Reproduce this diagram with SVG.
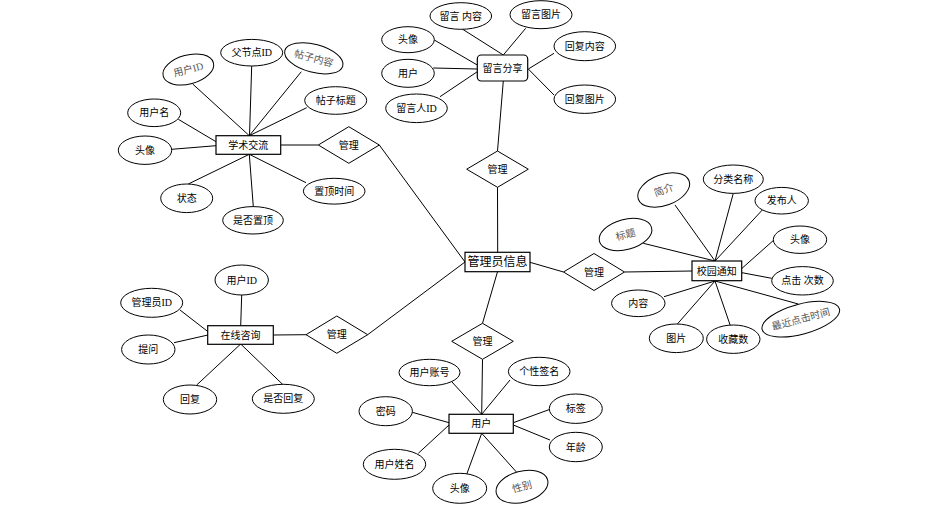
<svg xmlns="http://www.w3.org/2000/svg" width="941" height="509" viewBox="0 0 941 509">
<style>
.e{fill:#fff;stroke:#000;stroke-width:1}
.r{fill:#fff;stroke:#000;stroke-width:1.2}
.d{fill:#fff;stroke:#000;stroke-width:1}
.c line,.c polyline{stroke:#000;stroke-width:1;fill:none}
text{font-family:"Liberation Serif","Noto Sans CJK SC",serif;font-size:10px;text-anchor:middle;dominant-baseline:central;fill:#000}
.g{fill:#555}
.big{font-size:12px}
</style>
<rect width="941" height="509" fill="#fff"/>
<g class="c" id="connectors">
<!-- 学术交流 -->
<line x1="192.7" y1="84" x2="249.3" y2="135.7"/>
<line x1="251.7" y1="66" x2="249.5" y2="135.7"/>
<line x1="301.3" y1="71.7" x2="249.3" y2="135.7"/>
<line x1="306.7" y1="107.7" x2="249.3" y2="135.7"/>
<line x1="178.3" y1="119.3" x2="216" y2="141.7"/>
<line x1="171.7" y1="149.3" x2="216" y2="145.7"/>
<line x1="188.3" y1="184" x2="249.3" y2="154.3"/>
<line x1="253.3" y1="206.7" x2="249.3" y2="154.3"/>
<line x1="306" y1="182.7" x2="249.3" y2="154.3"/>
<line x1="280.7" y1="145" x2="318.3" y2="145"/>
<line x1="379.3" y1="145" x2="465" y2="262"/>
<!-- 留言分享 -->
<line x1="462.7" y1="29.3" x2="503.3" y2="55"/>
<line x1="525.7" y1="28.3" x2="503.3" y2="55"/>
<line x1="434.3" y1="40" x2="477.3" y2="65"/>
<line x1="433.3" y1="68" x2="477.3" y2="69"/>
<line x1="440" y1="96.7" x2="477.3" y2="71.7"/>
<line x1="554" y1="53.3" x2="528.3" y2="69"/>
<line x1="554" y1="95" x2="528.3" y2="69"/>
<line x1="503.3" y1="81" x2="497.5" y2="151"/>
<line x1="497.5" y1="187.3" x2="497.7" y2="252.3"/>
<!-- 校园通知 -->
<line x1="530" y1="262.3" x2="563.5" y2="272"/>
<line x1="624.5" y1="272" x2="692" y2="271"/>
<line x1="675" y1="205" x2="715" y2="261"/>
<line x1="733.3" y1="193.3" x2="715" y2="261"/>
<line x1="762.3" y1="210" x2="715" y2="261"/>
<line x1="643.3" y1="243.3" x2="715" y2="261"/>
<line x1="775" y1="239" x2="742" y2="268.3"/>
<line x1="771.7" y1="278.3" x2="742" y2="272.7"/>
<line x1="798.3" y1="304" x2="715" y2="281"/>
<line x1="664" y1="296.7" x2="715" y2="281"/>
<line x1="675" y1="326.7" x2="715" y2="281"/>
<line x1="730.7" y1="326.7" x2="715" y2="281"/>
<!-- 用户 -->
<line x1="497.5" y1="271.7" x2="482.5" y2="323.3"/>
<line x1="482.5" y1="359.3" x2="481.7" y2="414.3"/>
<line x1="451.7" y1="381.7" x2="481.7" y2="414.3"/>
<line x1="510" y1="380" x2="481.7" y2="414.3"/>
<line x1="412.3" y1="412.3" x2="449" y2="422.7"/>
<line x1="418.3" y1="453.3" x2="449" y2="425"/>
<line x1="466.7" y1="474.3" x2="481.7" y2="433.3"/>
<line x1="516.7" y1="472.3" x2="481.7" y2="433.3"/>
<line x1="550" y1="409.3" x2="513.3" y2="422.7"/>
<line x1="550" y1="440" x2="513.3" y2="425"/>
<!-- 在线咨询 -->
<line x1="465" y1="262" x2="367.7" y2="334.7"/>
<line x1="241.7" y1="295" x2="240.7" y2="326"/>
<line x1="180" y1="310" x2="208" y2="331.7"/>
<line x1="174" y1="342.7" x2="208" y2="335"/>
<line x1="196.7" y1="385" x2="240.7" y2="344"/>
<line x1="283.3" y1="385" x2="240.7" y2="344"/>
<line x1="273.3" y1="335" x2="306" y2="334.7"/>
</g>

<g id="admin">
<rect class="r" x="465" y="252.3" width="65" height="19.4"/>
<text class="big" x="497.5" y="262">管理员信息</text>
</g>

<g id="xueshu">
<rect class="r" x="216" y="135.7" width="64.7" height="18.6"/>
<text x="248.3" y="145">学术交流</text>
</g>
<g id="xueshu-guanli">
<polygon class="d" points="318.3,145 348.8,126.7 379.3,145 348.8,163.3"/>
<text x="348.8" y="145">管理</text>
</g>
<g id="xs-yonghuid">
<ellipse class="e" cx="188.3" cy="69.5" rx="26" ry="14.5" transform="rotate(-15 188.3 69.5)"/>
<text class="g" x="188.3" y="69.5" transform="rotate(-15 188.3 69.5)">用户ID</text>
</g>
<g id="xs-fujiedian">
<ellipse class="e" cx="251.7" cy="52.7" rx="31" ry="13.3"/>
<text x="251.7" y="52.7">父节点ID</text>
</g>
<g id="xs-tiezineirong">
<ellipse class="e" cx="313.8" cy="58.3" rx="30" ry="14" transform="rotate(15 313.8 58.3)"/>
<text class="g" x="313.8" y="58.3" transform="rotate(15 313.8 58.3)">帖子内容</text>
</g>
<g id="xs-tiezibiaoti">
<ellipse class="e" cx="335.7" cy="100.5" rx="31" ry="13.8"/>
<text x="335.7" y="100.5">帖子标题</text>
</g>
<g id="xs-yonghuming">
<ellipse class="e" cx="154.2" cy="112.8" rx="26.5" ry="13.8"/>
<text x="154.2" y="112.8">用户名</text>
</g>
<g id="xs-touxiang">
<ellipse class="e" cx="145" cy="150.2" rx="26.7" ry="14.2"/>
<text x="145" y="150.2">头像</text>
</g>
<g id="xs-zhuangtai">
<ellipse class="e" cx="186.7" cy="198.3" rx="26" ry="14.3"/>
<text x="186.7" y="198.3">状态</text>
</g>
<g id="xs-shifouzhiding">
<ellipse class="e" cx="253" cy="220.3" rx="30.3" ry="13.7"/>
<text x="253" y="220.3">是否置顶</text>
</g>
<g id="xs-zhidingshijian">
<ellipse class="e" cx="334.2" cy="191.2" rx="30.8" ry="12.9"/>
<text x="334.2" y="191.2">置顶时间</text>
</g>

<g id="liuyan">
<rect class="r" x="477.3" y="55" width="50.4" height="26" rx="4"/>
<text x="502.5" y="68">留言分享</text>
</g>
<g id="liuyan-guanli">
<polygon class="d" points="466.7,169.2 497.5,151 528.3,169.2 497.5,187.3"/>
<text x="497.5" y="169.2">管理</text>
</g>
<g id="ly-neirong">
<ellipse class="e" cx="460.8" cy="16" rx="30.8" ry="13.3"/>
<text x="460.8" y="16">留言 内容</text>
</g>
<g id="ly-tupian">
<ellipse class="e" cx="541" cy="14.7" rx="31" ry="14"/>
<text x="541" y="14.7">留言图片</text>
</g>
<g id="ly-touxiang">
<ellipse class="e" cx="408" cy="39.7" rx="26.3" ry="13"/>
<text x="408" y="39.7">头像</text>
</g>
<g id="ly-yonghu">
<ellipse class="e" cx="408" cy="73.3" rx="26.3" ry="14"/>
<text x="408" y="73.3">用户</text>
</g>
<g id="ly-liuyanren">
<ellipse class="e" cx="416.5" cy="108.3" rx="30.8" ry="14.3"/>
<text x="416.5" y="108.3">留言人ID</text>
</g>
<g id="ly-huifuneirong">
<ellipse class="e" cx="584.8" cy="46.2" rx="30.8" ry="14.5"/>
<text x="584.8" y="46.2">回复内容</text>
</g>
<g id="ly-huifutupian">
<ellipse class="e" cx="584.8" cy="99.2" rx="30.8" ry="14.2"/>
<text x="584.8" y="99.2">回复图片</text>
</g>

<g id="xiaoyuan">
<rect class="r" x="692" y="261" width="49.7" height="19.7"/>
<text x="716.8" y="271">校园通知</text>
</g>
<g id="xiaoyuan-guanli">
<polygon class="d" points="563.5,272 594,253.5 624.5,272 594,290.5"/>
<text x="594" y="272">管理</text>
</g>
<g id="xy-jianjie">
<ellipse class="e" cx="663.7" cy="190" rx="27" ry="15.5" transform="rotate(-20 663.7 190)"/>
<text class="g" x="663.7" y="190" transform="rotate(-20 663.7 190)">简介</text>
</g>
<g id="xy-fenlei">
<ellipse class="e" cx="733.3" cy="179.2" rx="30" ry="14.2"/>
<text x="733.3" y="179.2">分类名称</text>
</g>
<g id="xy-fabu011">
<ellipse class="e" cx="781.7" cy="200.7" rx="26.7" ry="13.3"/>
<text x="781.7" y="200.7">发布人</text>
</g>
<g id="xy-biaoti">
<ellipse class="e" cx="625.5" cy="234.5" rx="27" ry="15" transform="rotate(-15 625.5 234.5)"/>
<text class="g" x="625.5" y="234.5" transform="rotate(-15 625.5 234.5)">标题</text>
</g>
<g id="xy-touxiang">
<ellipse class="e" cx="800" cy="239.7" rx="26.7" ry="13.7"/>
<text x="800" y="239.7">头像</text>
</g>
<g id="xy-dianji">
<ellipse class="e" cx="802.5" cy="280.8" rx="30.8" ry="14.2"/>
<text x="802.5" y="280.8">点击 次数</text>
</g>
<g id="xy-zuijin">
<ellipse class="e" cx="800.8" cy="319.2" rx="40" ry="15" transform="rotate(-15 800.8 319.2)"/>
<text class="g" x="800.8" y="319.2" transform="rotate(-15 800.8 319.2)">最近点击时间</text>
</g>
<g id="xy-neirong">
<ellipse class="e" cx="638.3" cy="303.3" rx="26.7" ry="13.3"/>
<text x="638.3" y="303.3">内容</text>
</g>
<g id="xy-tupian">
<ellipse class="e" cx="676.3" cy="338.3" rx="27" ry="14.3"/>
<text x="676.3" y="338.3">图片</text>
</g>
<g id="xy-shoucang">
<ellipse class="e" cx="733.3" cy="339.2" rx="26.7" ry="14.2"/>
<text x="733.3" y="339.2">收藏数</text>
</g>

<g id="yonghu">
<rect class="r" x="449" y="414.3" width="64.3" height="19"/>
<text x="481.2" y="423.8">用户</text>
</g>
<g id="yonghu-guanli">
<polygon class="d" points="451.7,341.3 482.5,323.3 513.3,341.3 482.5,359.3"/>
<text x="482.5" y="341.3">管理</text>
</g>
<g id="yh-zhanghao">
<ellipse class="e" cx="429.5" cy="372.5" rx="30.5" ry="13.2"/>
<text x="429.5" y="372.5">用户账号</text>
</g>
<g id="yh-qianming">
<ellipse class="e" cx="539.2" cy="371.5" rx="30.8" ry="14.2"/>
<text x="539.2" y="371.5">个性签名</text>
</g>
<g id="yh-mima">
<ellipse class="e" cx="385.7" cy="411.2" rx="26.7" ry="14.5"/>
<text x="385.7" y="411.2">密码</text>
</g>
<g id="yh-biaoqian">
<ellipse class="e" cx="575.8" cy="408.7" rx="26.5" ry="14.7"/>
<text x="575.8" y="408.7">标签</text>
</g>
<g id="yh-nianling">
<ellipse class="e" cx="575.8" cy="447" rx="26.5" ry="14.7"/>
<text x="575.8" y="447">年龄</text>
</g>
<g id="yh-xingming">
<ellipse class="e" cx="394.5" cy="464.3" rx="31.2" ry="15"/>
<text x="394.5" y="464.3">用户姓名</text>
</g>
<g id="yh-touxiang">
<ellipse class="e" cx="459.7" cy="488.3" rx="27" ry="15"/>
<text x="459.7" y="488.3">头像</text>
</g>
<g id="yh-xingbie">
<ellipse class="e" cx="522" cy="486.7" rx="26.5" ry="15.5" transform="rotate(-15 522 486.7)"/>
<text class="g" x="522" y="486.7" transform="rotate(-15 522 486.7)">性别</text>
</g>

<g id="zixun">
<rect class="r" x="207.7" y="325.7" width="65.6" height="18.6"/>
<text x="240.5" y="335">在线咨询</text>
</g>
<g id="zixun-guanli">
<polygon class="d" points="306,334.7 336.8,316 367.7,334.7 336.8,353.3"/>
<text x="336.8" y="334.7">管理</text>
</g>
<g id="zx-yonghuid">
<ellipse class="e" cx="241.7" cy="280" rx="26.7" ry="15"/>
<text x="241.7" y="280">用户ID</text>
</g>
<g id="zx-guanliyuanid">
<ellipse class="e" cx="151.7" cy="302.8" rx="31" ry="14.5"/>
<text x="151.7" y="302.8">管理员ID</text>
</g>
<g id="zx-tiwen">
<ellipse class="e" cx="148.3" cy="349.5" rx="26.7" ry="14.5"/>
<text x="148.3" y="349.5">提问</text>
</g>
<g id="zx-huifu">
<ellipse class="e" cx="190" cy="399.5" rx="26.7" ry="14.5"/>
<text x="190" y="399.5">回复</text>
</g>
<g id="zx-shifouhuifu">
<ellipse class="e" cx="283.3" cy="398.8" rx="31" ry="14.5"/>
<text x="283.3" y="398.8">是否回复</text>
</g>
</svg>
